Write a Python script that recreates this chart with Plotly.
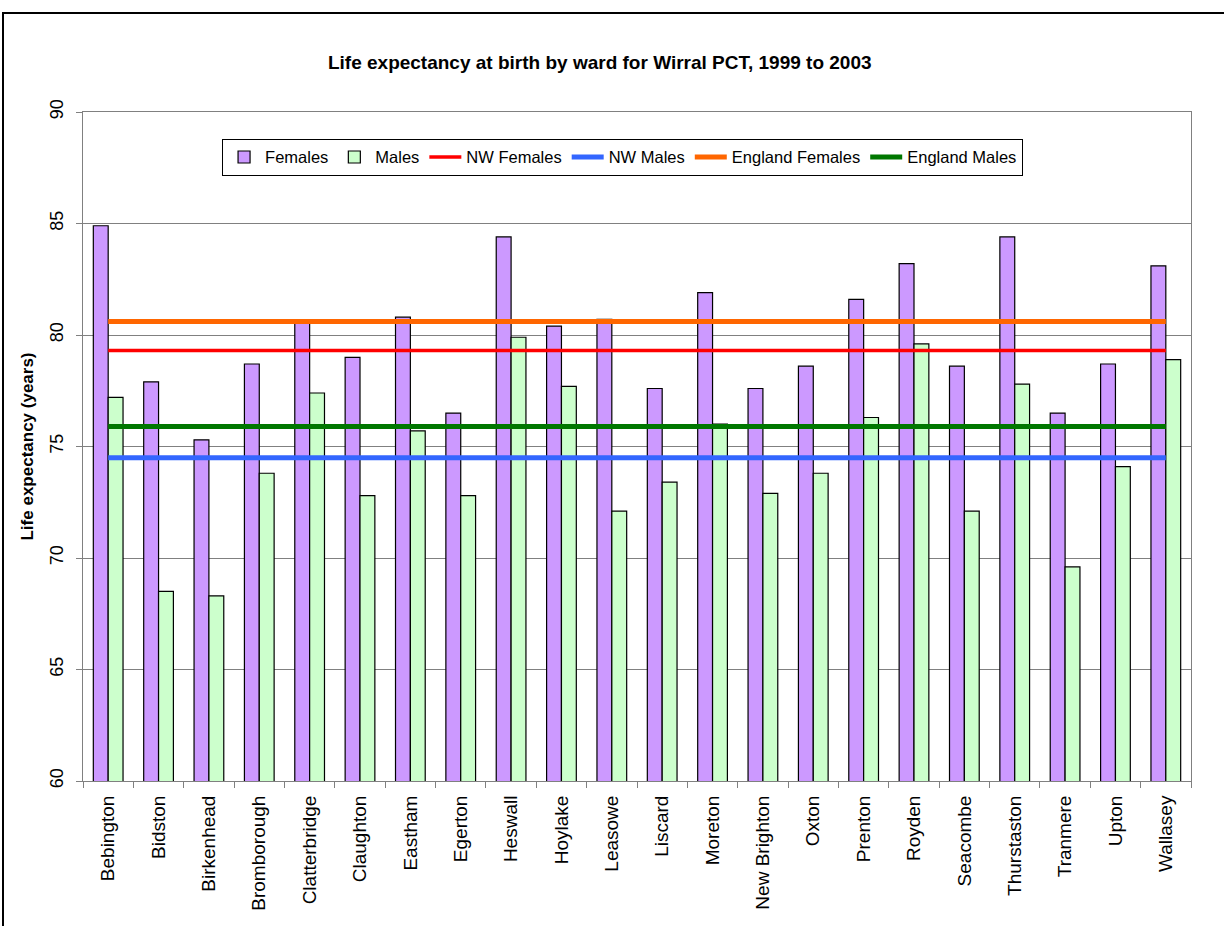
import plotly.graph_objects as go

# Wards of Wirral PCT
wards = ["Bebington", "Bidston", "Birkenhead", "Bromborough", "Clatterbridge",
         "Claughton", "Eastham", "Egerton", "Heswall", "Hoylake", "Leasowe",
         "Liscard", "Moreton", "New Brighton", "Oxton", "Prenton", "Royden",
         "Seacombe", "Thurstaston", "Tranmere", "Upton", "Wallasey"]

# Life expectancy at birth (years), 1999-2003
females = [84.9, 77.9, 75.3, 78.7, 80.6, 79.0, 80.8, 76.5, 84.4, 80.4, 80.7,
           77.6, 81.9, 77.6, 78.6, 81.6, 83.2, 78.6, 84.4, 76.5, 78.7, 83.1]
males = [77.2, 68.5, 68.3, 73.8, 77.4, 72.8, 75.7, 72.8, 79.9, 77.7, 72.1,
         73.4, 76.0, 72.9, 73.8, 76.3, 79.6, 72.1, 77.8, 69.6, 74.1, 78.9]

# Comparator averages
nw_females = 79.3
nw_males = 74.5
england_females = 80.6
england_males = 75.9

y_ticks = [60, 65, 70, 75, 80, 85, 90]

FONT = "Liberation Sans, Arial, sans-serif"

fig = go.Figure()
fig.add_trace(go.Bar(name="Females", x=wards, y=females,
                     marker=dict(color="#CC99FF", line=dict(color="black", width=1.2))))
fig.add_trace(go.Bar(name="Males", x=wards, y=males,
                     marker=dict(color="#CCFFCC", line=dict(color="black", width=1.2))))

refs = [("NW Females", nw_females, "#FF0000", 3.5),
        ("NW Males", nw_males, "#3366FF", 5),
        ("England Females", england_females, "#FF6600", 5),
        ("England Males", england_males, "#007700", 5)]
for name, val, col, w in refs:
    fig.add_trace(go.Scatter(name=name, x=wards, y=[val] * len(wards),
                             mode="lines", line=dict(color=col, width=w)))

fig.update_layout(
    width=1224, height=926,
    margin=dict(l=83, r=33, t=112, b=145),
    paper_bgcolor="white", plot_bgcolor="white",
    font=dict(family=FONT, size=16, color="black"),
    barmode="group", bargap=0.41, bargroupgap=0,
    title=dict(text="<b>Life expectancy at birth by ward for Wirral PCT, 1999 to 2003</b>",
               x=0.49, xanchor="center", y=0.933, yanchor="middle",
               font=dict(family=FONT, size=19)),
    legend=dict(orientation="h", x=0.1255, xanchor="left", y=0.96, yanchor="top",
                bgcolor="white", bordercolor="black", borderwidth=1,
                font=dict(family=FONT, size=16.5), traceorder="normal",
                itemwidth=32, tracegroupgap=0),
    showlegend=True,
)

fig.update_xaxes(
    type="category", range=[-0.5, len(wards) - 0.5],
    tickangle=-90, tickson="boundaries", ticks="outside", ticklen=6,
    tickcolor="#808080", showline=True, linecolor="#808080", linewidth=1,
    mirror=True, showgrid=False, tickfont=dict(family=FONT, size=19),
    ticklabelstandoff=6,
)
fig.update_yaxes(
    range=[60, 90], tickvals=y_ticks, tickangle=-90,
    ticks="outside", ticklen=6, tickcolor="#808080",
    showline=True, linecolor="#808080", linewidth=1, mirror=True,
    showgrid=True, gridcolor="#808080", gridwidth=1,
    tickfont=dict(family=FONT, size=18), ticklabelstandoff=6,
    title=dict(text="<b>Life expectancy (years)</b>", font=dict(family=FONT, size=17),
               standoff=8),
)

# Chart frame
fig.add_shape(type="rect", xref="paper", yref="paper",
              x0=-0.0722, x1=1.06, y0=-0.24, y1=1.148,
              line=dict(color="black", width=2), fillcolor="rgba(0,0,0,0)",
              layer="below")

fig.write_html("out.html")
